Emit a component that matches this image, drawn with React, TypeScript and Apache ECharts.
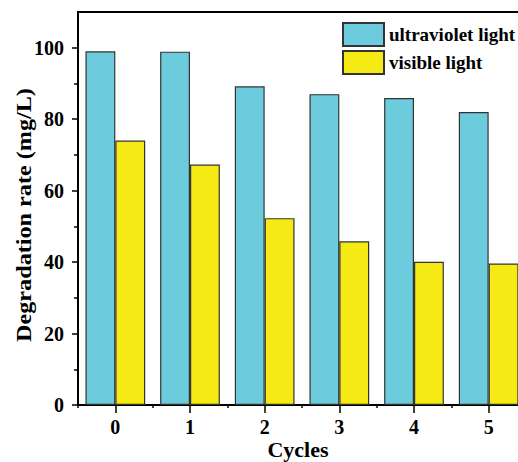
import React, { useEffect, useRef } from 'react';
import * as echarts from 'echarts';

const categories = ['0', '1', '2', '3', '4', '5'];
const ultravioletValues = [99, 98.9, 89.2, 87.0, 85.9, 82.0];
const visibleValues = [74.0, 67.3, 52.3, 45.8, 40.1, 39.6];
const yMajorTicks = [0, 20, 40, 60, 80, 100];
const yMinorTicks = [10, 30, 50, 70, 90];
const xAxisTitle = 'Cycles';
const yAxisTitle = 'Degradation rate (mg/L)';

const FONT = '"Liberation Serif", "Times New Roman", serif';

export default function App() {
  const ref = useRef<HTMLDivElement>(null);

  useEffect(() => {
    if (!ref.current) return;
    const chart = echarts.init(ref.current, null, { renderer: 'svg' });
    const axisLineStyle = { color: '#000', width: 2 };
    chart.setOption({
      animation: false,
      backgroundColor: '#fff',
      grid: {
        left: 78,
        top: 12,
        right: -8,
        bottom: 57,
        show: true,
        borderColor: '#000',
        borderWidth: 2,
        backgroundColor: 'transparent',
        containLabel: false,
        outerBoundsMode: 'none',
      },
      legend: {
        orient: 'vertical',
        left: 342,
        top: 22,
        padding: 0,
        itemWidth: 41,
        itemHeight: 23,
        itemGap: 3,
        icon: 'rect',
        textStyle: { fontFamily: FONT, fontWeight: 'bold', fontSize: 19, color: '#000' },
        data: ['ultraviolet light', 'visible light'],
      },
      graphic: [
        {
          type: 'text',
          x: 23,
          y: 215,
          rotation: Math.PI / 2,
          scaleX: 1.1,
          style: {
            text: yAxisTitle,
            fill: '#000',
            font: `bold 22px ${FONT}`,
            align: 'center',
            verticalAlign: 'middle',
          },
        },
        {
          type: 'text',
          x: 298,
          y: 449,
          style: {
            text: xAxisTitle,
            fill: '#000',
            font: `bold 22px ${FONT}`,
            align: 'center',
            verticalAlign: 'middle',
          },
        },
      ],
      xAxis: [
        {
          type: 'category',
          data: categories,
          position: 'bottom',
          axisLine: { show: true, lineStyle: axisLineStyle },
          axisTick: { show: true, alignWithLabel: true, length: 8, lineStyle: { color: '#000', width: 1.5 } },
          axisLabel: { color: '#000', fontFamily: FONT, fontWeight: 'bold', fontSize: 20, margin: 12 },
        },
        {
          type: 'category',
          data: categories,
          position: 'bottom',
          axisLine: { show: false },
          axisTick: { show: true, length: 3, lineStyle: { color: '#000', width: 1.5 } },
          axisLabel: { show: false },
          splitLine: { show: false },
        },
      ],
      yAxis: [
        {
          type: 'value',
          min: 0,
          max: 110,
          position: 'left',
          axisLine: { show: true, lineStyle: axisLineStyle },
          axisTick: { show: true, length: 6, customValues: yMajorTicks, lineStyle: { color: '#000', width: 1.5 } },
          axisLabel: { customValues: yMajorTicks, color: '#000', fontFamily: FONT, fontWeight: 'bold', fontSize: 20, margin: 14 },
          splitLine: { show: false },
        },
        {
          type: 'value',
          min: 0,
          max: 110,
          position: 'left',
          axisLine: { show: false },
          axisTick: { show: true, length: 4, customValues: yMinorTicks, lineStyle: { color: '#000', width: 1.5 } },
          axisLabel: { show: false },
          splitLine: { show: false },
        },
      ],
      series: [
        {
          name: 'ultraviolet light',
          type: 'bar',
          xAxisIndex: 0,
          yAxisIndex: 0,
          data: ultravioletValues,
          barGap: '0%',
          barCategoryGap: '20%',
          itemStyle: { color: '#6CCBDC', borderColor: '#333', borderWidth: 1.2 },
        },
        {
          name: 'visible light',
          type: 'bar',
          xAxisIndex: 0,
          yAxisIndex: 0,
          data: visibleValues,
          barGap: '0%',
          barCategoryGap: '20%',
          itemStyle: { color: '#F5EA14', borderColor: '#333', borderWidth: 1.2 },
        },
      ],
    });
    return () => chart.dispose();
  }, []);

  return <div ref={ref} style={{ position: 'fixed', left: 0, top: 0, width: 518, height: 462 }} />;
}
